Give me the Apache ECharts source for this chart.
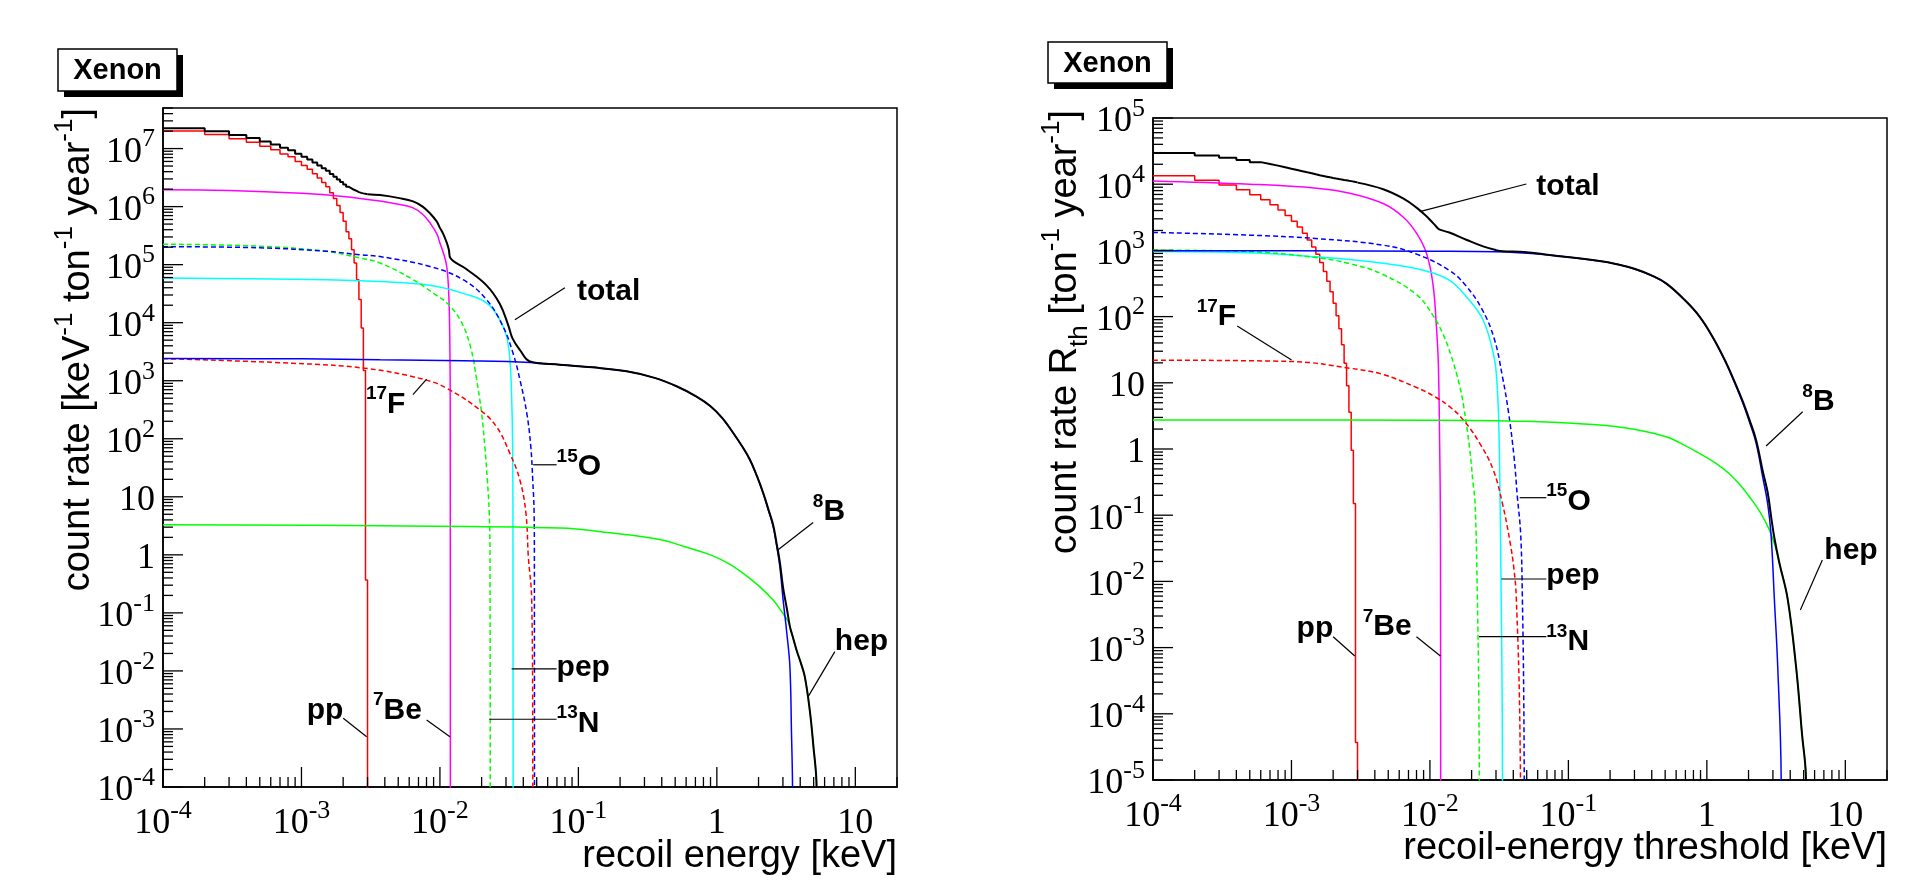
<!DOCTYPE html>
<html>
<head>
<meta charset="utf-8">
<script src="https://cdn.jsdelivr.net/npm/echarts@6.0.0/dist/echarts.min.js"></script>
<style>
  html, body { margin: 0; padding: 0; background: #ffffff; }
  #main { width: 1926px; height: 882px; }
</style>
</head>
<body>
<div id="main"></div>
<script>
// ---------------------------------------------------------------------------
// Solar-neutrino coherent scattering on xenon.
// Left panel: differential recoil spectra  dR/dE  [keV^-1 ton^-1 year^-1]
// Right panel: integrated rate above a recoil-energy threshold  [ton^-1 year^-1]
// ---------------------------------------------------------------------------

// pp spectrum is a histogram with 1e-4 keV bins (edges in keV)
const ppBinEdges = [0.0001, 0.0002, 0.0003, 0.0004, 0.0005, 0.0006, 0.0007, 0.0008, 0.0009, 0.0010,
                    0.0011, 0.0012, 0.0013, 0.0014, 0.0015, 0.0016, 0.0017, 0.0018, 0.0019, 0.0020,
                    0.0021, 0.0022, 0.0023, 0.0024, 0.0025, 0.0026, 0.0027, 0.0028, 0.0029, 0.0030];

// ---- left panel: differential rates ----
const ppDiff = [2.0e7, 1.74e7, 1.48e7, 1.29e7, 1.10e7, 9.5e6, 8.1e6, 7.2e6, 6.0e6, 5.1e6,
                4.4e6, 3.7e6, 3.1e6, 2.6e6, 2.2e6, 1.73e6, 1.38e6, 1.05e6, 7.9e5, 5.6e5,
                3.7e5, 2.8e5, 1.8e5, 1.07e5, 5.5e4, 2.5e4, 8.1e3, 1.5e3, 0.37];
const totalDiffBins = [2.24e7, 1.98e7, 1.72e7, 1.525e7, 1.33e7, 1.18e7, 1.03e7, 9.4e6, 8.17e6, 7.24e6,
                       6.5e6, 5.76e6, 5.12e6, 4.58e6, 4.15e6, 3.66e6, 3.28e6, 2.93e6, 2.65e6, 2.40e6,
                       2.19e6, 2.07e6, 1.95e6, 1.86e6, 1.775e6, 1.725e6, 1.69e6, 1.66e6, 1.64e6];
const totalDiffE = [3.0e-3, 3.7e-3, 5.1e-3, 6.4e-3, 7.5e-3, 8.5e-3, 9.5e-3, 1.0e-2, 1.05e-2, 1.12e-2, 1.16e-2, 1.19e-2,
                    1.54e-2, 2.17e-2, 2.71e-2, 3.12e-2, 3.35e-2, 3.78e-2, 4.47e-2, 7.35e-2, 0.126, 0.223, 0.355,
                    0.512, 0.708, 0.9, 1.1, 1.31, 1.51, 1.73, 1.95, 2.16, 2.35, 2.55, 2.7, 2.85, 3.01, 3.2, 3.37,
                    3.5, 3.76, 4.05, 4.32, 4.69, 4.96, 5.25, 5.3];
const totalDiffR = [1.64e6, 1.58e6, 1.4e6, 1.23e6, 1.0e6, 7.6e5, 5.5e5, 4.3e5, 3.5e5, 2.4e5, 1.8e5, 1.3e5,
                    8.5e4, 4.4e4, 2.1e4, 8.9e3, 5.3e3, 3.4e3, 2.15e3, 1.89e3, 1.7e3, 1.45e3, 1.12e3,
                    802, 538, 364, 225, 127, 76.5, 44, 22.7, 11.7, 6.2, 3.27, 1.58, 0.75, 0.27, 0.12, 0.058,
                    0.042, 0.023, 0.0135, 7.9e-3, 2.1e-3, 5.6e-4, 1.0e-4, 1e-7];
const be7DiffE = [1e-4, 3e-4, 1e-3, 2e-3, 3.7e-3, 5e-3, 6.4e-3, 7.5e-3, 8.5e-3, 9.5e-3, 1.0e-2, 1.05e-2, 1.12e-2, 1.16e-2, 1.18e-2, 1.187e-2, 1.19e-2];
const be7DiffR = [1.95e6, 1.9e6, 1.7e6, 1.5e6, 1.25e6, 1.1e6, 9.5e5, 7.4e5, 5.2e5, 3.4e5, 2.35e5, 1.7e5, 9.3e4, 2.8e4, 3.9e3, 300, 1e-7];
const n13DiffE = [1e-4, 5e-4, 1.5e-3, 2.64e-3, 3.69e-3, 6.42e-3, 9e-3, 1.12e-2, 1.4e-2, 1.66e-2, 1.84e-2, 2.0e-2, 2.11e-2, 2.2e-2, 2.27e-2, 2.30e-2, 2.31e-2];
const n13DiffR = [2.25e5, 2.08e5, 1.7e5, 1.3e5, 1.07e5, 5.5e4, 3.2e4, 2.2e4, 1.12e4, 3.9e3, 1.05e3, 275, 74, 19.5, 5.2, 0.9, 1e-7];
const o15DiffE = [1e-4, 5e-4, 1.52e-3, 2.64e-3, 3.69e-3, 8.47e-3, 1.47e-2, 2.17e-2, 2.85e-2, 3.37e-2, 3.78e-2, 4.24e-2, 4.53e-2, 4.68e-2, 4.79e-2, 4.81e-2, 4.82e-2];
const o15DiffR = [2.04e5, 1.95e5, 1.7e5, 1.48e5, 1.38e5, 9.3e4, 5.5e4, 2.5e4, 8.7e3, 3.0e3, 1.05e3, 275, 74, 19.5, 5.2, 0.93, 1e-7];
const pepDiffE = [1e-4, 1.52e-3, 3.69e-3, 8.47e-3, 1.47e-2, 2.17e-2, 2.71e-2, 3.03e-2, 3.2e-2, 3.29e-2, 3.35e-2, 3.37e-2, 3.38e-2];
const pepDiffR = [5.9e4, 5.5e4, 5.1e4, 4.4e4, 3.2e4, 2.2e4, 1.12e4, 5.8e3, 2.3e3, 620, 74, 1.0, 1e-7];
const f17DiffE = [1e-4, 8.7e-4, 3.0e-3, 7.7e-3, 1.12e-2, 1.94e-2, 2.56e-2, 3.2e-2, 3.78e-2, 4.18e-2, 4.35e-2, 4.6e-2, 4.68e-2, 4.7e-2];
const f17DiffR = [2.4e3, 2.0e3, 1.62e3, 1.05e3, 740, 316, 162, 56, 19.5, 5.2, 0.93, 0.17, 1e-3, 1e-7];
const b8DiffE = [1e-4, 1e-3, 3.7e-3, 1.5e-2, 4.47e-2, 7.35e-2, 0.126, 0.223, 0.355, 0.512, 0.708, 0.9, 1.1, 1.31,
                 1.51, 1.73, 1.95, 2.16, 2.35, 2.55, 2.7, 2.85, 3.01, 3.2, 3.37, 3.46, 3.52, 3.55];
const b8DiffR = [2.42e3, 2.38e3, 2.3e3, 2.2e3, 2.07e3, 1.89e3, 1.7e3, 1.45e3, 1.12e3, 800, 537, 363, 224, 126,
                 76, 43.6, 22.4, 11.5, 6.0, 3.1, 1.45, 0.63, 0.168, 0.045, 0.0117, 8.5e-4, 1.0e-4, 1e-7];
const hepDiffE = [1e-4, 3.7e-3, 7.35e-2, 0.169, 0.396, 0.587, 0.9, 1.2, 1.55, 2.0, 2.55, 2.9, 3.27, 3.5, 3.76, 4.05, 4.32, 4.69, 4.96, 5.25, 5.3];
const hepDiffR = [3.3, 3.16, 2.9, 2.4, 1.82, 1.38, 1.0, 0.72, 0.48, 0.295, 0.166, 0.11, 0.071, 0.042, 0.023, 0.0135, 7.9e-3, 2.1e-3, 5.6e-4, 1.0e-4, 1e-7];

// ---- right panel: rates integrated above threshold ----
const ppInt = [13450, 11450, 9710, 8230, 6940, 5840, 4890, 4080, 3360, 2760,
               2250, 1810, 1440, 1130, 874, 654, 481, 343, 238, 159,
               103, 65.7, 37.7, 19.7, 9.0, 3.6, 0.96, 0.15, 3.7e-5];
const totalIntBins = [29500, 27140, 25030, 23190, 21540, 20230, 19070, 18060, 17130, 16380,
                      15720, 15140, 14630, 14120, 13670, 13320, 12990, 12690, 12430, 12200,
                      11990, 11800, 11610, 11450, 11260, 11130, 10950, 10820, 10650];
const totalIntE = [3.0e-3, 4.6e-3, 6.4e-3, 8e-3, 9.4e-3, 1.05e-2, 1.11e-2, 1.15e-2, 1.19e-2, 1.38e-2, 1.83e-2, 2.42e-2,
                   3.0e-2, 3.35e-2, 4.8e-2, 7.3e-2, 0.168, 0.224, 0.3, 0.398, 0.508, 0.676, 0.884, 1.12, 1.38,
                   1.585, 1.82, 2.04, 2.27, 2.53, 2.75, 2.91, 3.07, 3.34, 3.83, 4.41, 4.86, 5.2, 5.25];
const totalIntR = [10560, 8400, 6100, 4430, 3300, 2600, 2300, 2120, 2040, 1860, 1450, 1150,
                   1010, 970, 945, 853, 692, 619, 527, 419, 318, 187, 101, 46.4, 20.0,
                   10.4, 5.2, 2.69, 1.36, 0.47, 0.22, 0.096, 0.046, 0.019, 5.5e-3, 5.1e-4, 5.1e-5, 1e-5, 1e-7];
const be7IntE = [1e-4, 5e-4, 1.52e-3, 2.64e-3, 4.59e-3, 6.4e-3, 8.0e-3, 9.44e-3, 1.05e-2, 1.11e-2, 1.15e-2, 1.177e-2, 1.19e-2, 1.193e-2, 1.197e-2];
const be7IntR = [1.12e4, 1.0e4, 8.7e3, 7.3e3, 5.1e3, 3.2e3, 1.82e3, 903, 318, 79, 19.5, 0.97, 0.095, 5.9e-3, 1e-7];
const b8IntE = [1e-4, 1e-3, 1e-2, 3e-2, 7.3e-2, 0.168, 0.224, 0.3, 0.398, 0.508, 0.676, 0.884, 1.12, 1.38,
                1.585, 1.82, 2.04, 2.27, 2.53, 2.75, 2.91, 3.07, 3.25, 3.44, 3.46];
const b8IntR = [990, 985, 970, 955, 850, 690, 617, 525, 417, 316, 186, 100, 45.7, 19.5,
                10, 4.9, 2.5, 1.22, 0.38, 0.15, 0.05, 5.6e-3, 5.1e-4, 1.1e-5, 1e-7];
const hepIntE = [1e-4, 1e-2, 0.05, 0.168, 0.21, 0.33, 0.508, 0.634, 0.85, 1.17, 1.46, 1.75, 2.03, 2.4, 2.83, 3.1, 3.34, 3.83, 4.41, 4.86, 5.2, 5.25];
const hepIntR = [2.75, 2.73, 2.62, 2.31, 2.2, 1.9, 1.53, 1.25, 0.9, 0.60, 0.42, 0.28, 0.19, 0.115, 0.06, 0.035, 0.019, 5.5e-3, 5.1e-4, 5.1e-5, 1e-5, 1e-7];
const n13IntE = [1e-4, 5e-4, 1.5e-3, 2.64e-3, 4.5e-3, 8e-3, 1.05e-2, 1.24e-2, 1.42e-2, 1.63e-2, 1.75e-2, 1.94e-2, 2.05e-2, 2.12e-2, 2.2e-2, 2.26e-2, 2.29e-2];
const n13IntR = [1010, 960, 780, 630, 440, 215, 105, 55, 26, 9.5, 4.5, 0.97, 0.3, 0.15, 6e-3, 1e-4, 1e-7];
const pepIntE = [1e-4, 5e-4, 1.5e-3, 4.6e-3, 9.4e-3, 1.38e-2, 1.83e-2, 2.42e-2, 2.9e-2, 3.05e-2, 3.14e-2, 3.2e-2, 3.27e-2, 3.33e-2, 3.35e-2];
const pepIntR = [960, 922, 800, 640, 490, 355, 200, 89, 25, 9.8, 2.5, 0.3, 6e-3, 1e-4, 1e-7];
const o15IntE = [1e-4, 5e-4, 1.5e-3, 4.6e-3, 8e-3, 1.38e-2, 1.8e-2, 2.35e-2, 2.9e-2, 3.34e-2, 3.7e-2, 4.05e-2, 4.28e-2, 4.52e-2, 4.65e-2, 4.77e-2, 4.83e-2];
const o15IntR = [1870, 1700, 1510, 1200, 880, 500, 300, 135, 48, 12.4, 3.5, 0.76, 0.19, 0.053, 5.9e-3, 1e-4, 1e-7];
const f17IntE = [1e-4, 1e-3, 2.64e-3, 4.5e-3, 8e-3, 1.11e-2, 1.38e-2, 1.73e-2, 2.29e-2, 2.87e-2, 3.34e-2, 3.8e-2, 4.05e-2, 4.2e-2, 4.45e-2, 4.57e-2];
const f17IntR = [22, 21, 16.6, 13.5, 8.5, 6.0, 4.4, 2.8, 1.22, 0.48, 0.15, 0.038, 0.015, 5.9e-3, 1e-4, 1e-7];

// ---- axes ----
const xRange = [1e-4, 20];
const yRangeDiff = [1e-4, 5e7];
const yRangeInt = [1e-5, 1e5];
const xDecades = [-4, -3, -2, -1, 0, 1];
const yDecadesDiff = [-4, -3, -2, -1, 0, 1, 2, 3, 4, 5, 6, 7];
const yDecadesInt = [-5, -4, -3, -2, -1, 0, 1, 2, 3, 4, 5];
const minorMultipliers = [1, 2, 3, 4, 5, 6, 7, 8, 9];

// ---- curve labels: [text, text anchor (log10 E, log10 R), leader start, leader end] ----
const labelsDiff = [
  ['{b|total}', [-1.0108, 4.5759], [-1.0975, 4.6034], [-1.4585, 4.0517]],
  ['{b|pp}', [-2.9625, -2.6379], [-2.6982, -2.8155], [-2.5292, -3.1328]],
  ['{s|7}{b|Be}', [-2.4838, -2.6379], [-2.096, -2.8448], [-1.9278, -3.1328]],
  ['{b|pep}', [-1.1574, -1.9069], [-1.4823, -1.9655], [-1.1574, -1.9655]],
  ['{s|13}{b|N}', [-1.1574, -2.8621], [-1.644, -2.8328], [-1.1574, -2.8328]],
  ['{b|hep}', [0.852, -1.4586], [0.852, -1.6672], [0.6592, -2.4431]],
  ['{s|8}{b|B}', [0.6931, 0.7828], [0.6953, 0.5569], [0.4426, 0.0862]],
  ['{s|15}{b|O}', [-1.1574, 1.5586], [-1.3264, 1.5517], [-1.1574, 1.5517]],
  ['{s|17}{b|F}', [-2.5343, 2.6380], [-2.1950, 2.7590], [-2.096, 3.0293]]
];
const labelsInt = [
  ['{b|total}', [-1.2316, 3.994], [-1.3037, 4.003], [-2.0736, 3.5846]],
  ['{s|17}{b|F}', [-3.6847, 2.0302], [-3.3918, 1.858], [-2.9993, 1.3444]],
  ['{s|8}{b|B}', [0.6898, 0.7462], [0.692, 0.5634], [0.4278, 0.0453]],
  ['{b|hep}', [0.8485, -1.4955], [0.834, -1.6767], [0.6753, -2.432]],
  ['{s|15}{b|O}', [-1.1595, -0.7553], [-1.3521, -0.7356], [-1.1595, -0.7356]],
  ['{b|pep}', [-1.1595, -1.8731], [-1.4841, -1.9637], [-1.1595, -1.9637]],
  ['{s|13}{b|N}', [-1.1595, -2.8792], [-1.6457, -2.8353], [-1.1595, -2.8353]],
  ['{b|pp}', [-2.9632, -2.6782], [-2.6991, -2.8353], [-2.5426, -3.1269]],
  ['{s|7}{b|Be}', [-2.4848, -2.6526], [-2.0974, -2.8353], [-1.9242, -3.1269]]
];

// ---------------------------------------------------------------------------
const FLOOR = 1e-7;               // below both y ranges: curve ends drop out of the frame
const SERIF = '"Liberation Serif", "Times New Roman", serif';
const SANS = '"Liberation Sans", Arial, Helvetica, sans-serif';
const pow10 = (e) => Math.pow(10, e);

function curve(E, R) { return E.map((e, i) => [e, R[i]]); }
function histogram(edges, vals, dropToFloor) {
  const p = vals.map((v, i) => [edges[i], v]);
  p.push([edges[vals.length], vals[vals.length - 1]]);
  if (dropToFloor) p.push([edges[vals.length], FLOOR]);
  return p;
}
function tickValues(decades, maxVal) {
  const out = [];
  decades.forEach((d) => minorMultipliers.forEach((m) => {
    const v = m * pow10(d);
    if (v <= maxVal * 1.0000001) out.push(v);
  }));
  return out;
}
function isDecade(v) {
  const l = Math.log10(v);
  return Math.abs(l - Math.round(l)) < 1e-6;
}
function powerLabel(v) {
  const l = Math.log10(v);
  const e = Math.round(l);
  if (Math.abs(l - e) > 1e-6) return '';
  if (e === 0) return '{m|1}';
  if (e === 1) return '{m|10}';
  return '{m|10}{e|' + e + '}';
}

const numberRich = {
  m: { fontFamily: SERIF, fontSize: 36, color: '#000', padding: [8, 0, 0, 0], verticalAlign: 'bottom' },
  e: { fontFamily: SERIF, fontSize: 26, color: '#000', verticalAlign: 'top' }
};

function xAxisDef(grid) {
  return {
    type: 'log', logBase: 10, gridIndex: grid, min: xRange[0], max: xRange[1], interval: 1,
    axisLine: { show: true, lineStyle: { color: '#000', width: 1.6 } },
    axisTick: { show: false }, splitLine: { show: false }, minorTick: { show: false },
    axisLabel: { show: true, formatter: powerLabel, rich: numberRich, margin: 11,
                 showMaxLabel: false, showMinLabel: true, hideOverlap: false, color: '#000' }
  };
}
function yAxisDef(grid, range) {
  return {
    type: 'log', logBase: 10, gridIndex: grid, min: range[0], max: range[1], interval: 1,
    axisLine: { show: true, lineStyle: { color: '#000', width: 1.6 } },
    axisTick: { show: false }, splitLine: { show: false }, minorTick: { show: false },
    axisLabel: { show: true, formatter: powerLabel, rich: numberRich, margin: 8,
                 showMaxLabel: true, showMinLabel: true, hideOverlap: false, color: '#000' }
  };
}

function line(grid, data, color, opt) {
  opt = opt || {};
  return {
    type: 'line', xAxisIndex: grid, yAxisIndex: grid, data: data,
    symbol: 'none', showSymbol: false, silent: true, clip: true, animation: false,
    step: opt.step ? 'end' : false,
    smooth: opt.step ? false : 0.4,
    lineStyle: { color: color, width: opt.width || 1.5, type: opt.dash ? [5, 3] : 'solid' },
    z: opt.z || 2
  };
}

// inward axis ticks at 1..9 x 10^k, long ones at each decade
function tickSeries(grid, values, onX, otherMin) {
  return {
    type: 'custom', xAxisIndex: grid, yAxisIndex: grid, silent: true, animation: false, z: 6,
    data: values.map((v) => onX ? [v, otherMin] : [otherMin, v]),
    renderItem: function (params, api) {
      const v = api.value(onX ? 0 : 1);
      const p = api.coord([api.value(0), api.value(1)]);
      const cs = params.coordSys;
      const len = isDecade(v) ? 20 : 10;
      if (onX) {
        const b = cs.y + cs.height;
        return { type: 'line', shape: { x1: p[0], y1: b, x2: p[0], y2: b - len }, style: { stroke: '#000', lineWidth: 1.3 } };
      }
      return { type: 'line', shape: { x1: cs.x, y1: p[1], x2: cs.x + len, y2: p[1] }, style: { stroke: '#000', lineWidth: 1.3 } };
    }
  };
}

const labelRich = {
  b: { fontFamily: SANS, fontWeight: 'bold', fontSize: 30, color: '#000', padding: [5, 0, 0, 0], verticalAlign: 'bottom' },
  s: { fontFamily: SANS, fontWeight: 'bold', fontSize: 19, color: '#000', verticalAlign: 'top' }
};

function labelSeries(grid, labels) {
  return {
    type: 'custom', xAxisIndex: grid, yAxisIndex: grid, silent: true, animation: false, z: 7,
    data: labels.map((a) => [pow10(a[1][0]), pow10(a[1][1])]),
    renderItem: function (params, api) {
      const a = labels[params.dataIndex];
      const t = api.coord([pow10(a[1][0]), pow10(a[1][1])]);
      const f = api.coord([pow10(a[2][0]), pow10(a[2][1])]);
      const g = api.coord([pow10(a[3][0]), pow10(a[3][1])]);
      return {
        type: 'group',
        children: [
          { type: 'line', shape: { x1: f[0], y1: f[1], x2: g[0], y2: g[1] }, style: { stroke: '#000', lineWidth: 1.2 } },
          { type: 'text', x: t[0], y: t[1],
            style: { text: a[0], rich: labelRich, fill: '#000', align: 'left', verticalAlign: 'middle',
                     fontFamily: SANS, fontWeight: 'bold', fontSize: 30 } }
        ]
      };
    }
  };
}

function panelBox(x, y, w, h) {
  return [
    { type: 'rect', shape: { x: x + 6, y: y + 6, width: w, height: h }, style: { fill: '#000' }, z: 10 },
    { type: 'rect', shape: { x: x, y: y, width: w, height: h }, style: { fill: '#fff', stroke: '#000', lineWidth: 1.5 }, z: 11 },
    { type: 'text', x: x + w / 2, y: y + h / 2 + 1, z: 12,
      style: { text: 'Xenon', fill: '#000', font: 'bold 29px ' + SANS, align: 'center', verticalAlign: 'middle' } }
  ];
}

const titleRich = {
  n: { fontFamily: SANS, fontSize: 38, color: '#000', padding: [8, 0, 8, 0], verticalAlign: 'middle' },
  s: { fontFamily: SANS, fontSize: 26, color: '#000', verticalAlign: 'top' },
  t: { fontFamily: SANS, fontSize: 26, color: '#000', verticalAlign: 'bottom' }
};

const chart = echarts.init(document.getElementById('main'), null, { renderer: 'canvas' });

chart.setOption({
  backgroundColor: '#ffffff',
  animation: false,
  grid: [
    { left: 163, top: 108, width: 734, height: 679, show: true, borderColor: '#000', borderWidth: 1.5, backgroundColor: 'transparent', containLabel: false },
    { left: 1153, top: 118, width: 734, height: 662, show: true, borderColor: '#000', borderWidth: 1.5, backgroundColor: 'transparent', containLabel: false }
  ],
  xAxis: [xAxisDef(0), xAxisDef(1)],
  yAxis: [yAxisDef(0, yRangeDiff), yAxisDef(1, yRangeInt)],
  series: [
    // differential spectra
    line(0, histogram(ppBinEdges, ppDiff, true), '#ff0000', { step: true }),
    line(0, curve(be7DiffE, be7DiffR), '#ff00ff'),
    line(0, curve(pepDiffE, pepDiffR), '#00ffff'),
    line(0, curve(n13DiffE, n13DiffR), '#00ff00', { dash: true }),
    line(0, curve(o15DiffE, o15DiffR), '#0000ff', { dash: true }),
    line(0, curve(f17DiffE, f17DiffR), '#ff0000', { dash: true }),
    line(0, curve(hepDiffE, hepDiffR), '#00ff00'),
    line(0, curve(b8DiffE, b8DiffR), '#0000ff'),
    line(0, histogram(ppBinEdges, totalDiffBins, false), '#000000', { step: true, width: 2, z: 3 }),
    line(0, curve(totalDiffE, totalDiffR), '#000000', { width: 2, z: 3 }),
    // integrated rates
    line(1, histogram(ppBinEdges, ppInt, true), '#ff0000', { step: true }),
    line(1, curve(be7IntE, be7IntR), '#ff00ff'),
    line(1, curve(pepIntE, pepIntR), '#00ffff'),
    line(1, curve(n13IntE, n13IntR), '#00ff00', { dash: true }),
    line(1, curve(o15IntE, o15IntR), '#0000ff', { dash: true }),
    line(1, curve(f17IntE, f17IntR), '#ff0000', { dash: true }),
    line(1, curve(hepIntE, hepIntR), '#00ff00'),
    line(1, curve(b8IntE, b8IntR), '#0000ff'),
    line(1, histogram(ppBinEdges, totalIntBins, false), '#000000', { step: true, width: 2, z: 3 }),
    line(1, curve(totalIntE, totalIntR), '#000000', { width: 2, z: 3 }),
    // axis ticks
    tickSeries(0, tickValues(xDecades, xRange[1]), true, yRangeDiff[0]),
    tickSeries(0, tickValues(yDecadesDiff, yRangeDiff[1]), false, xRange[0]),
    tickSeries(1, tickValues(xDecades, xRange[1]), true, yRangeInt[0]),
    tickSeries(1, tickValues(yDecadesInt, yRangeInt[1]), false, xRange[0]),
    // curve labels
    labelSeries(0, labelsDiff),
    labelSeries(1, labelsInt)
  ],
  graphic: [].concat(
    panelBox(58, 49, 119, 42),
    panelBox(1048, 42, 119, 41),
    [
      { type: 'text', x: 897, y: 857, z: 12,
        style: { text: 'recoil energy [keV]', fill: '#000', font: '38px ' + SANS, align: 'right', verticalAlign: 'middle' } },
      { type: 'text', x: 1887, y: 849, z: 12,
        style: { text: 'recoil-energy threshold [keV]', fill: '#000', font: '38px ' + SANS, align: 'right', verticalAlign: 'middle' } },
      { type: 'text', x: 79, y: 108, rotation: Math.PI / 2, z: 12,
        style: { text: '{n|count rate [keV}{s|-1}{n| ton}{s|-1}{n| year}{s|-1}{n|]}', rich: titleRich,
                 fill: '#000', align: 'right', verticalAlign: 'middle' } },
      { type: 'text', x: 1066, y: 110, rotation: Math.PI / 2, z: 12,
        style: { text: '{n|count rate R}{t|th}{n| [ton}{s|-1}{n| year}{s|-1}{n|]}', rich: titleRich,
                 fill: '#000', align: 'right', verticalAlign: 'middle' } }
    ]
  )
});
</script>
</body>
</html>
